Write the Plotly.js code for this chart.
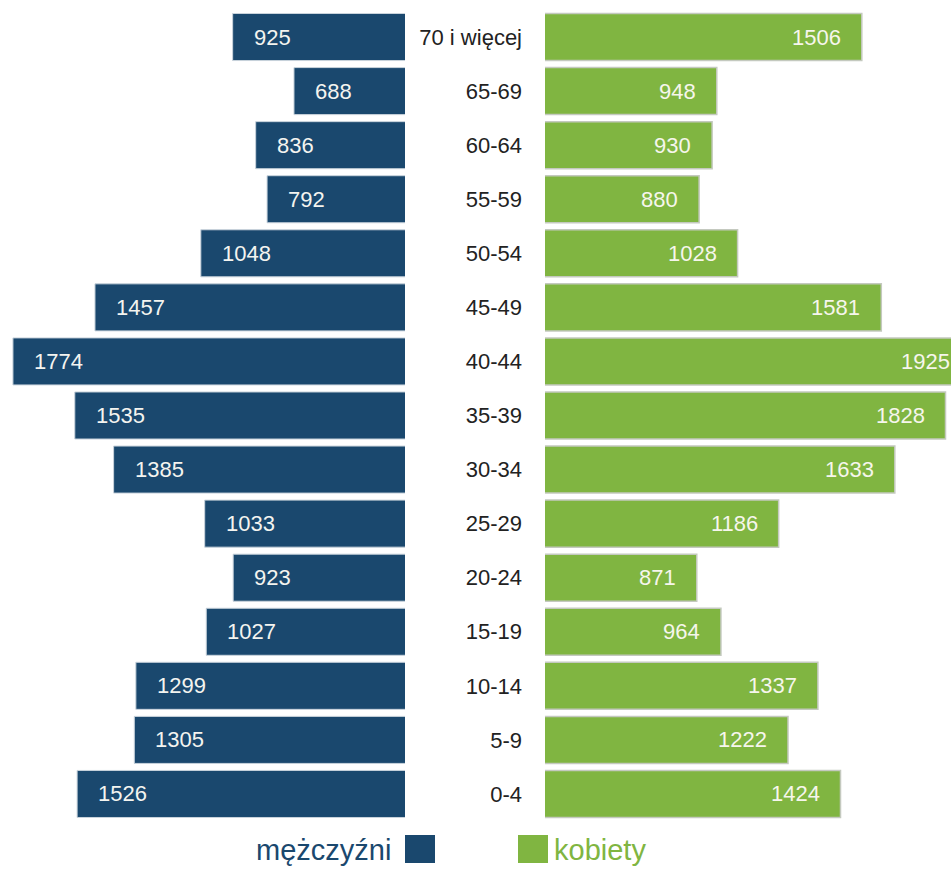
<!DOCTYPE html>
<html>
<head>
<meta charset="utf-8">
<script src="https://cdn.plot.ly/plotly-3.0.1.min.js"></script>
<style>html,body{margin:0;padding:0;background:#fff;overflow:hidden;}#chart{width:980px;height:869px;}</style>
</head>
<body>
<div id="chart"></div>
<script>
const ageGroups = ["70 i więcej","65-69","60-64","55-59","50-54","45-49","40-44","35-39","30-34","25-29","20-24","15-19","10-14","5-9","0-4"];
const men   = [925, 688, 836, 792, 1048, 1457, 1774, 1535, 1385, 1033, 923, 1027, 1299, 1305, 1526];
const women = [1506, 948, 930, 880, 1028, 1581, 1925, 1828, 1633, 1186, 871, 964, 1337, 1222, 1424];
const legendMen = "mężczyźni";
const legendWomen = "kobiety";

const blue = "#1a486e";
const green = "#80b541";
const FONT = "Liberation Sans, Arial, sans-serif";

// page is wider than the 951px window; the window crops the right edge like the reference
const W = 980, H = 869;
const pxPerUnit = 0.2599;
const rightMin = 287;
const rightMax = rightMin + (W - 545) / pxPerUnit;

const traces = [
  {
    type: "bar", orientation: "h", x: men, y: ageGroups, xaxis: "x", yaxis: "y",
    marker: {color: blue, line: {color: "#c9d3dc", width: 1}},
    hoverinfo: "x+y", showlegend: false
  },
  {
    type: "bar", orientation: "h", x: women, y: ageGroups, xaxis: "x2", yaxis: "y2",
    marker: {color: green, line: {color: "#c4c9bf", width: 1.5}},
    hoverinfo: "x+y", showlegend: false
  }
];

const yDom = [(H - 821) / H, (H - 10) / H];

const valueLabels = [];
men.forEach((v, i) => valueLabels.push({
  xref: "x", yref: "y", x: v, y: ageGroups[i], xanchor: "left", yanchor: "middle",
  xshift: 19, text: String(v), showarrow: false,
  font: {family: FONT, size: 22, color: "#f4f4f0"}
}));
women.forEach((v, i) => valueLabels.push({
  xref: "x2", yref: "y2", x: v, y: ageGroups[i], xanchor: "right", yanchor: "middle",
  xshift: -19, text: String(v), showarrow: false,
  font: {family: FONT, size: 22, color: "#f6f6ec"}
}));

const layout = {
  width: W, height: H,
  margin: {l: 0, r: 0, t: 0, b: 0},
  paper_bgcolor: "#fff", plot_bgcolor: "#fff",
  bargap: 0.13,
  font: {family: FONT},
  xaxis: {domain: [0, 405 / W], range: [1824, 259], visible: false, fixedrange: true},
  xaxis2: {domain: [545 / W, 1], range: [rightMin, rightMax], visible: false, fixedrange: true},
  yaxis: {domain: yDom, anchor: "x", type: "category", autorange: "reversed",
          visible: false, categoryorder: "array", categoryarray: ageGroups},
  yaxis2: {domain: yDom, anchor: "x2", type: "category", autorange: "reversed",
           categoryorder: "array", categoryarray: ageGroups,
           side: "left", showline: false, showgrid: false, zeroline: false,
           ticks: "", ticklabelstandoff: 22,
           tickfont: {family: FONT, size: 22, color: "#222"}},
  annotations: valueLabels.concat([
    {xref: "paper", yref: "paper", x: 393 / W, y: (H - 850) / H, xanchor: "right", yanchor: "middle",
     text: legendMen, showarrow: false, font: {family: FONT, size: 29, color: blue}},
    {xref: "paper", yref: "paper", x: 552 / W, y: (H - 850) / H, xanchor: "left", yanchor: "middle",
     text: legendWomen, showarrow: false, font: {family: FONT, size: 29, color: green}}
  ]),
  shapes: [
    {type: "rect", xref: "paper", yref: "paper", x0: 405 / W, x1: 435 / W, y0: (H - 863) / H, y1: (H - 835) / H,
     fillcolor: blue, line: {width: 0}},
    {type: "rect", xref: "paper", yref: "paper", x0: 518 / W, x1: 548 / W, y0: (H - 863) / H, y1: (H - 835) / H,
     fillcolor: green, line: {width: 0}}
  ]
};

Plotly.newPlot("chart", traces, layout, {displayModeBar: false, staticPlot: true});
</script>
</body>
</html>
